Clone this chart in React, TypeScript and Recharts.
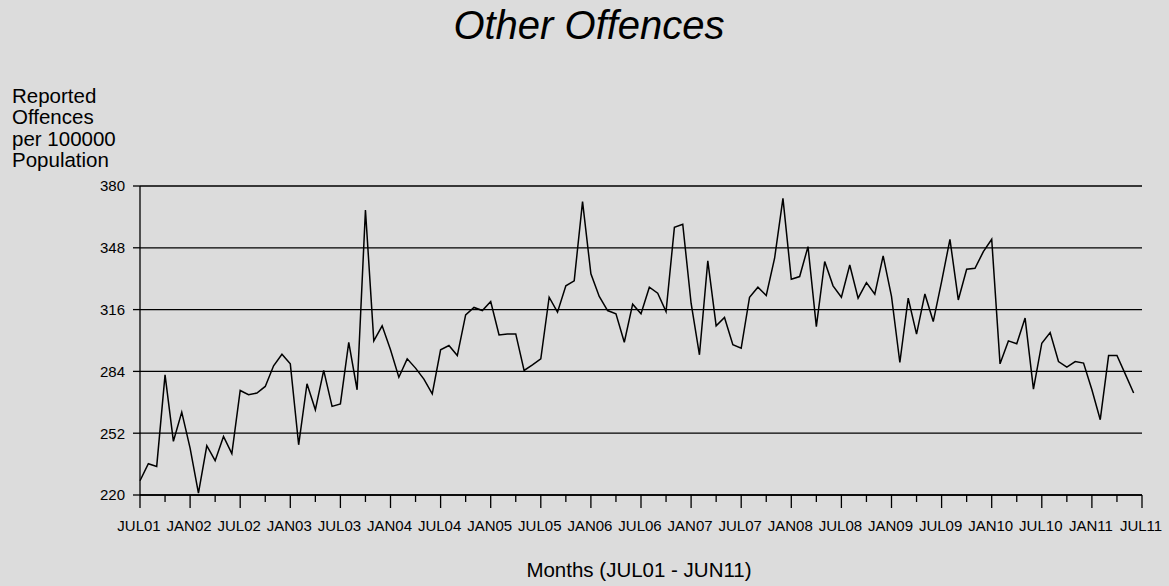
import { CartesianGrid, Line, LineChart, XAxis, YAxis } from 'recharts';

// monthly values, JUL01 .. JUN11 (120 months)
const OFFENCE_RATE: number[] = [
  227.4, 236.2, 234.8, 282.2, 247.8, 262.9, 244.3, 221.0, 245.5, 237.8, 250.3, 241.4,
  274.1, 271.9, 272.8, 276.2, 286.9, 292.9, 287.9, 246.0, 277.6, 264.1, 284.5, 265.9,
  267.2, 299.0, 274.5, 367.6, 299.8, 307.6, 295.2, 281.0, 290.5, 285.7, 280.0, 272.4,
  295.2, 297.4, 292.2, 313.3, 317.1, 315.5, 320.2, 302.9, 303.4, 303.4, 284.5, 287.4,
  290.5, 322.4, 314.7, 328.3, 330.9, 371.9, 334.5, 322.8, 315.5, 313.8, 299.1, 318.8,
  313.8, 327.6, 324.5, 315.0, 358.6, 360.2, 319.3, 292.6, 341.2, 307.6, 311.9, 297.8,
  296.0, 322.4, 327.6, 323.3, 342.6, 373.6, 331.7, 333.1, 348.6, 307.2, 340.9, 328.3,
  322.4, 339.1, 321.9, 330.0, 324.0, 343.8, 322.8, 288.6, 321.9, 303.3, 324.1, 309.8,
  330.5, 352.4, 321.0, 336.9, 337.4, 346.0, 352.4, 287.9, 299.8, 298.3, 311.6, 274.8,
  298.6, 304.1, 289.1, 286.2, 289.1, 288.3, 274.5, 259.0, 292.2, 292.2, 282.6, 272.8,
];

// one label every 6 months
const TICK_LABELS: string[] = [
  'JUL01', 'JAN02', 'JUL02', 'JAN03', 'JUL03', 'JAN04', 'JUL04', 'JAN05', 'JUL05', 'JAN06',
  'JUL06', 'JAN07', 'JUL07', 'JAN08', 'JUL08', 'JAN09', 'JUL09', 'JAN10', 'JUL10', 'JAN11',
  'JUL11',
];

const Y_TICKS = [220, 252, 284, 316, 348, 380];
const Y_LABEL_LINES = ['Reported', 'Offences', 'per 100000', 'Population'];

const FONT = '"Liberation Sans", Arial, sans-serif';
const BG = '#dcdcdc';

const rows = OFFENCE_RATE.map((value, m) => ({ m, value }));
const monthTicks = Array.from({ length: TICK_LABELS.length * 2 - 1 }, (_, i) => i * 3);

function MonthTick(props: any) {
  const { x, y, payload } = props;
  const v: number = payload.value;
  const major = v % 6 === 0;
  return (
    <g>
      <line x1={x} x2={x} y1={y} y2={y + (major ? 13 : 7)} stroke="#000" strokeWidth={1.3} />
      {major && (
        <text x={x - 1} y={y + 36} textAnchor="middle" fontSize={15} fontFamily={FONT} fill="#000">
          {TICK_LABELS[v / 6]}
        </text>
      )}
    </g>
  );
}

export default function App() {
  return (
    <div style={{ position: 'absolute', left: 0, top: 0, width: 1169, height: 586, background: BG }}>
      <LineChart
        width={1169}
        height={586}
        data={rows}
        margin={{ top: 186, right: 27, left: 0, bottom: 61 }}
      >
        <CartesianGrid vertical={false} stroke="#000" strokeWidth={1.3} />
        <XAxis
          dataKey="m"
          type="number"
          domain={[0, 120]}
          ticks={monthTicks}
          interval={0}
          height={30}
          tickLine={false}
          tickSize={0}
          tickMargin={0}
          tick={<MonthTick />}
          axisLine={{ stroke: '#000', strokeWidth: 1.3 }}
        />
        <YAxis
          domain={[220, 380]}
          ticks={Y_TICKS}
          interval={0}
          width={140}
          tickSize={7}
          tickMargin={8}
          tick={{ fill: '#000', fontSize: 15, fontFamily: FONT }}
          tickLine={{ stroke: '#000', strokeWidth: 1.3 }}
          axisLine={{ stroke: '#000', strokeWidth: 1.3 }}
        />
        <Line
          type="linear"
          dataKey="value"
          stroke="#000"
          strokeWidth={1.5}
          dot={false}
          isAnimationActive={false}
        />
      </LineChart>
      <svg
        width={1169}
        height={586}
        style={{ position: 'absolute', left: 0, top: 0, pointerEvents: 'none' }}
      >
        <text x={589} y={39} textAnchor="middle" fontSize={40} fontStyle="italic" fontFamily={FONT} fill="#000">
          Other Offences
        </text>
        {Y_LABEL_LINES.map((line, i) => (
          <text key={line} x={12} y={103 + i * 21.3} fontSize={20.5} fontFamily={FONT} fill="#000">
            {line}
          </text>
        ))}
        <text x={639} y={577} textAnchor="middle" fontSize={20.5} fontFamily={FONT} fill="#000">
          Months (JUL01 - JUN11)
        </text>
      </svg>
    </div>
  );
}
